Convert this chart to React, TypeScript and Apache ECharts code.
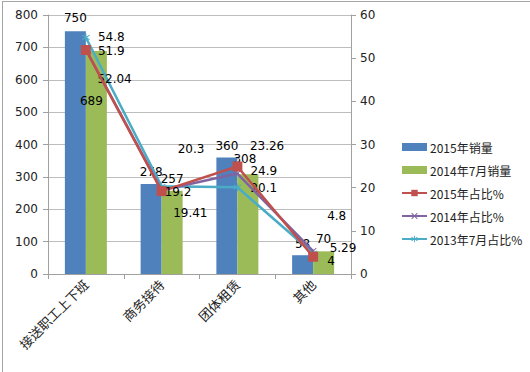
import React, { useEffect, useRef } from "react";
import * as echarts from "echarts";

const categories = ["接送职工上下班", "商务接待", "团体租赁", "其他"];
const sales2015 = [750, 278, 360, 58];
const sales2014Jul = [689, 257, 308, 70];
const share2015 = [51.9, 19.2, 24.9, 4];
const share2014 = [52.04, 19.41, 23.26, 5.29];
const share2013Jul = [54.8, 20.3, 20.1, 4.8];
const leftTicks = { min: 0, max: 800, interval: 100 };
const rightTicks = { min: 0, max: 60, interval: 10 };

const NUM_FONT = "'DejaVu Sans', Verdana, sans-serif";
const CJK_FONT = "'Noto Sans CJK SC', sans-serif";

const barLabelOffsets2015 = [[0, -2], [0, -1], [0, 0], [0, 0]];
const barLabelOffsets2014 = [[-5, 61], [0, -1], [-3, -4], [0, -1]];
const redOffsets = [[2, 1], [-7, 1], [3, 4], [4, 4]];
const purpleOffsets = [[3, 30], [3, 23], [4, -28], [8, -3]];
const cyanOffsets = [[3, 0], [7, -37], [4, 1], [5, -37]];

const xSymbol = "path://M0,1L1,0L5,4L9,0L10,1L6,5L10,9L9,10L5,6L1,10L0,9L4,5Z";
const starSymbol =
  "path://M4.4,0H5.6V3.9L8.9,1.6L9.5,2.6L6.2,5L9.5,7.4L8.9,8.4L5.6,6.1V10H4.4V6.1L1.1,8.4L0.5,7.4L3.8,5L0.5,2.6L1.1,1.6L4.4,3.9Z";

function withOffsets(values: number[], offsets: number[][], pos: string) {
  return values.map((v, i) => ({
    value: v,
    label: { position: pos, offset: offsets[i] },
  }));
}

export default function App() {
  const ref = useRef<HTMLDivElement>(null);
  useEffect(() => {
    document.body.style.margin = "0";
    const chart = echarts.init(ref.current!, null, { renderer: "svg" });
    const labelStyle = {
      show: true,
      color: "#000",
      fontFamily: NUM_FONT,
      fontSize: 12,
    };
    chart.setOption({
      animation: false,
      backgroundColor: "#fff",
      grid: { left: 48, right: 179, top: 15, bottom: 98 },
      legend: {
        orient: "vertical",
        left: 396,
        top: 135,
        itemWidth: 25,
        itemHeight: 8,
        itemGap: 9,
        textStyle: {
          fontFamily: CJK_FONT,
          fontSize: 12,
          color: "#222",
          lineHeight: 14,
          padding: [0, 0, 0, -2],
        },
        data: [
          { name: "2015年销量", icon: "rect" },
          { name: "2014年7月销量", icon: "rect" },
          "2015年占比%",
          "2014年占比%",
          "2013年7月占比%",
        ],
      },
      xAxis: {
        type: "category",
        data: categories,
        axisLine: { lineStyle: { color: "#a0a0a0" } },
        axisTick: { show: true, length: 5, lineStyle: { color: "#a0a0a0" } },
        axisLabel: {
          rotate: 45,
          fontFamily: CJK_FONT,
          fontSize: 13,
          color: "#222",
          margin: 8,
        },
      },
      yAxis: [
        {
          type: "value",
          ...leftTicks,
          axisLine: { show: true, lineStyle: { color: "#a0a0a0" } },
          axisTick: { show: true, length: 5, lineStyle: { color: "#a0a0a0" } },
          axisLabel: { fontFamily: NUM_FONT, fontSize: 12, color: "#222", margin: 10 },
          splitLine: { lineStyle: { color: "#bdbdbd" } },
        },
        {
          type: "value",
          ...rightTicks,
          position: "right",
          axisLine: { show: true, lineStyle: { color: "#a0a0a0" } },
          axisTick: { show: true, length: 5, lineStyle: { color: "#a0a0a0" } },
          axisLabel: { fontFamily: NUM_FONT, fontSize: 12, color: "#222", margin: 9 },
          splitLine: { show: false },
        },
      ],
      series: [
        {
          name: "2015年销量",
          type: "bar",
          barWidth: 21,
          barGap: "0%",
          itemStyle: { color: "#4f81bd" },
          label: { ...labelStyle, position: "top" },
          data: withOffsets(sales2015, barLabelOffsets2015, "top"),
        },
        {
          name: "2014年7月销量",
          type: "bar",
          barWidth: 21,
          barGap: "0%",
          itemStyle: { color: "#9bbb59" },
          label: { ...labelStyle, position: "top" },
          data: withOffsets(sales2014Jul, barLabelOffsets2014, "top"),
        },
        {
          name: "2015年占比%",
          type: "line",
          yAxisIndex: 1,
          symbol: "rect",
          symbolSize: 10,
          lineStyle: { color: "#c0504d", width: 2.5 },
          itemStyle: { color: "#c0504d" },
          label: { ...labelStyle, position: "right", distance: 5 },
          data: withOffsets(share2015, redOffsets, "right"),
          z: 4,
        },
        {
          name: "2014年占比%",
          type: "line",
          yAxisIndex: 1,
          symbol: xSymbol,
          symbolSize: 7,
          lineStyle: { color: "#8064a2", width: 2.5 },
          itemStyle: { color: "#8064a2" },
          label: { ...labelStyle, position: "right", distance: 5 },
          data: withOffsets(share2014, purpleOffsets, "right"),
          z: 3,
        },
        {
          name: "2013年7月占比%",
          type: "line",
          yAxisIndex: 1,
          symbol: starSymbol,
          symbolSize: 8,
          lineStyle: { color: "#4bacc6", width: 2.5 },
          itemStyle: { color: "#4bacc6" },
          label: { ...labelStyle, position: "right", distance: 5 },
          data: withOffsets(share2013Jul, cyanOffsets, "right"),
          z: 2,
        },
      ],
      graphic: [
        {
          type: "line",
          shape: { x1: 2, y1: 1.5, x2: 530, y2: 1.5 },
          style: { stroke: "#a6a6a6", lineWidth: 1 },
        },
        {
          type: "line",
          shape: { x1: 2.5, y1: 1, x2: 2.5, y2: 372 },
          style: { stroke: "#a6a6a6", lineWidth: 1 },
        },
      ],
    });
    return () => chart.dispose();
  }, []);
  return (
    <div
      ref={ref}
      style={{ position: "absolute", left: 0, top: 0, width: 530, height: 372 }}
    />
  );
}
